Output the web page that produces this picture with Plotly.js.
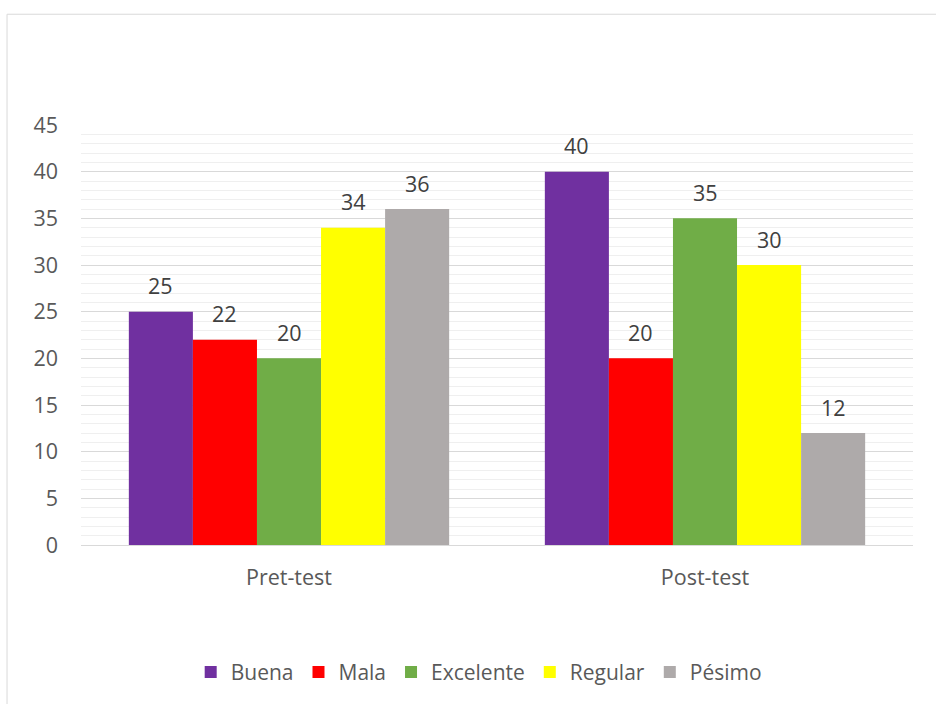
<!DOCTYPE html>
<html>
<head>
<meta charset="utf-8">
<script src="https://cdn.plot.ly/plotly-3.0.1.min.js"></script>
<style>html,body{margin:0;padding:0;background:#fff;}#chart{width:936px;height:704px;}</style>
</head>
<body>
<div id="chart"></div>
<script>
const categories = ["Pret-test", "Post-test"];
const seriesNames = ["Buena", "Mala", "Excelente", "Regular", "Pésimo"];
const buena = [25, 40];
const mala = [22, 20];
const excelente = [20, 35];
const regular = [34, 30];
const pesimo = [36, 12];
const colors = ["#7030A0", "#FF0000", "#70AD47", "#FFFF00", "#AEAAAA"];
const yTicks = [0, 5, 10, 15, 20, 25, 30, 35, 40, 45];

const allValues = [buena, mala, excelente, regular, pesimo];
const FONT = "'Open Sans', Lato, sans-serif";
const FS = 21.5;
const BARGAP = 0.23;

const traces = allValues.map((vals, i) => ({
  type: "bar",
  name: seriesNames[i],
  x: categories,
  y: vals,
  marker: { color: colors[i], line: { width: 0 } },
  hoverinfo: "none"
}));

// data labels placed above each bar
const nS = allValues.length;
const barW = (1 - BARGAP) / nS;
const annotations = [];
allValues.forEach((vals, i) => {
  vals.forEach((v, c) => {
    annotations.push({
      xref: "x", yref: "y",
      x: c - (1 - BARGAP) / 2 + barW * (i + 0.5),
      y: v,
      text: String(v),
      showarrow: false,
      yanchor: "middle",
      yshift: 26,
      font: { family: FONT, size: FS, color: "#404040" }
    });
  });
});

const layout = {
  width: 936,
  height: 704,
  margin: { l: 81, r: 23, t: 125, b: 158 },
  paper_bgcolor: "#ffffff",
  plot_bgcolor: "#ffffff",
  barmode: "group",
  bargap: BARGAP,
  bargroupgap: 0,
  font: { family: FONT, size: FS, color: "#595959" },
  xaxis: {
    type: "category",
    showline: true,
    linecolor: "#d9d9d9",
    linewidth: 1,
    ticks: "",
    ticklabelstandoff: 13,
    tickfont: { family: FONT, size: FS, color: "#595959" },
    showgrid: false,
    zeroline: false
  },
  yaxis: {
    range: [0, 45],
    tickvals: yTicks,
    ticktext: yTicks.map(String),
    showgrid: true,
    gridcolor: "#d9d9d9",
    gridwidth: 1,
    zeroline: false,
    showline: false,
    ticks: "",
    ticklabelstandoff: 22,
    tickfont: { family: FONT, size: FS, color: "#595959" },
    minor: { dtick: 1, showgrid: true, gridcolor: "#efefef", gridwidth: 1 }
  },
  showlegend: true,
  legend: {
    orientation: "h",
    x: 0.478,
    xanchor: "center",
    y: -0.3,
    yanchor: "middle",
    font: { family: FONT, size: 21, color: "#595959" },
    itemwidth: 30,
    traceorder: "normal"
  },
  annotations: annotations,
  shapes: [{
    type: "rect",
    xref: "paper", yref: "paper",
    x0: -0.0889, x1: 1.04,
    y0: -0.6, y1: 1.2637,
    line: { color: "#d9d9d9", width: 1 },
    fillcolor: "rgba(0,0,0,0)",
    layer: "below"
  }]
};

Plotly.newPlot("chart", traces, layout, { displayModeBar: false, staticPlot: true });
</script>
</body>
</html>
